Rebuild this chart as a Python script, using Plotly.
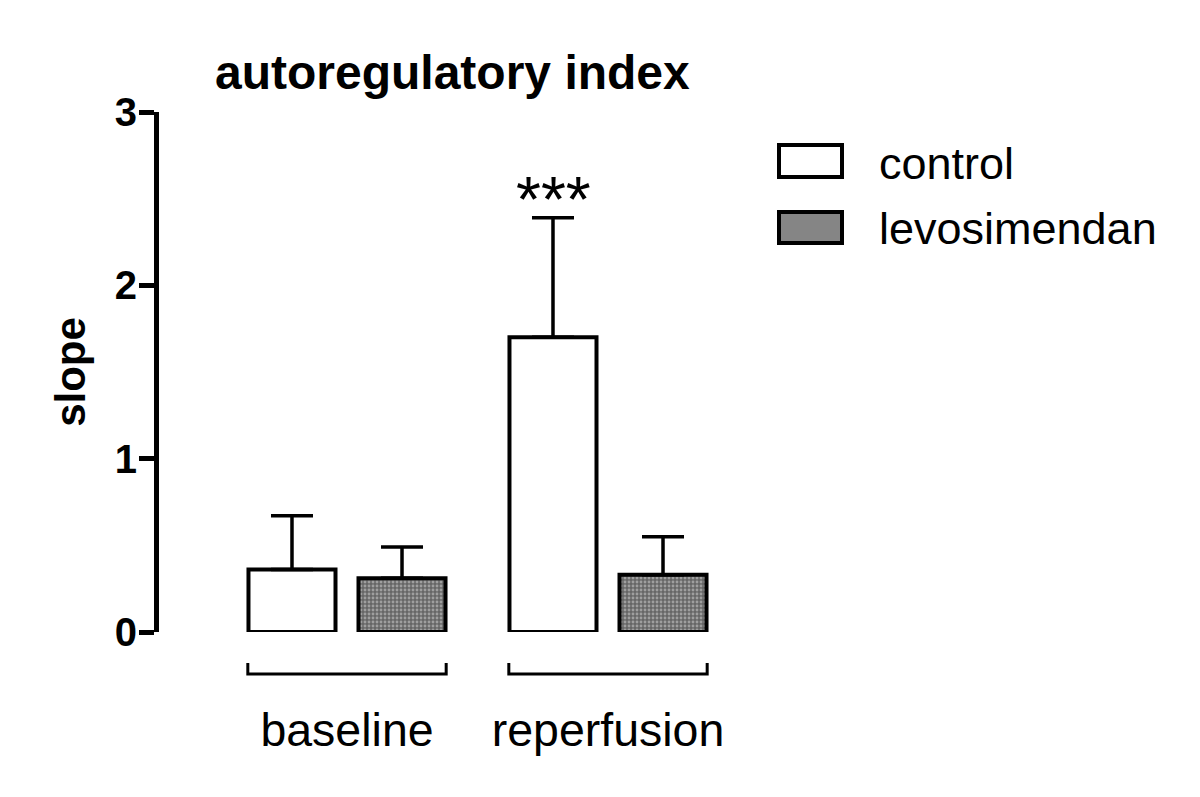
import plotly.graph_objects as go

# data
periods = ["baseline", "reperfusion"]
control_mean = [0.36, 1.70]
control_upper = [0.67, 2.39]
levo_mean = [0.31, 0.33]
levo_upper = [0.49, 0.55]
y_ticks = [0, 1, 2, 3]

BLACK = "#000000"
GREY = "#7a7a7a"
FONT = "Liberation Sans, Arial, sans-serif"

# the page body adds an 8px margin, so work in page pixels and shift
OFF = 8
W, H = 1200 - OFF, 797 - OFF
L, R, T, B = 159 - OFF, 740 - OFF, 112 - OFF, 632 - OFF


def px(x):
    return (x - OFF - L) / (R - L)


def py(y):
    return (B - (y - OFF)) / (B - T)


def err(upper, mean):
    return [u - m for u, m in zip(upper, mean)]


fig = go.Figure()
fig.add_trace(go.Bar(
    x=periods, y=control_mean, name="control",
    marker=dict(color="#ffffff", line=dict(color=BLACK, width=4)),
    error_y=dict(type="data", symmetric=False, array=err(control_upper, control_mean),
                 arrayminus=[0] * len(periods), color=BLACK, thickness=3.5, width=21),
))
fig.add_trace(go.Bar(
    x=periods, y=levo_mean, name="levosimendan",
    marker=dict(color=GREY, line=dict(color=BLACK, width=4),
                pattern=dict(shape=".", size=4, solidity=0.4,
                             fgcolor="#d8d8d8", bgcolor="#666666", fillmode="overlay")),
    error_y=dict(type="data", symmetric=False, array=err(levo_upper, levo_mean),
                 arrayminus=[0] * len(periods), color=BLACK, thickness=3.5, width=21),
))

# group brackets under each period
shapes = []
for i in range(len(periods)):
    x0, x1 = i - 0.38, i + 0.38
    shapes.append(dict(type="path", xref="x", yref="paper",
                       path=f"M {x0},{py(663)} L {x0},{py(674)} L {x1},{py(674)} L {x1},{py(663)}",
                       line=dict(color=BLACK, width=3)))

# legend swatches
shapes.append(dict(type="rect", xref="paper", yref="paper",
                   x0=px(779), x1=px(842), y0=py(177), y1=py(145),
                   fillcolor="#ffffff", line=dict(color=BLACK, width=4)))
shapes.append(dict(type="rect", xref="paper", yref="paper",
                   x0=px(779), x1=px(842), y0=py(243), y1=py(212),
                   fillcolor="#858585", line=dict(color=BLACK, width=4)))

annotations = [
    dict(x=px(877), y=py(163), xref="paper", yref="paper", text="control",
         showarrow=False, xanchor="left", yanchor="middle",
         font=dict(family=FONT, size=45, color=BLACK)),
    dict(x=px(877), y=py(228), xref="paper", yref="paper", text="levosimendan",
         showarrow=False, xanchor="left", yanchor="middle",
         font=dict(family=FONT, size=45, color=BLACK)),
    dict(x=periods[1], y=control_upper[1], xref="x", yref="y", text="***",
         showarrow=False, xanchor="center", yanchor="bottom", xshift=-55, yshift=-20,
         font=dict(family=FONT, size=64, color=BLACK)),
]

fig.update_layout(
    width=W, height=H,
    margin=dict(l=L, r=W - R, t=T, b=H - B),
    paper_bgcolor="#ffffff", plot_bgcolor="#ffffff",
    barmode="group", bargap=0.157, bargroupgap=0.209,
    showlegend=False,
    title=dict(text="<b>autoregulatory index</b>", x=px(215), xref="paper",
               xanchor="left", y=1 - (72 - OFF) / H, yanchor="middle",
               font=dict(family=FONT, size=48, color=BLACK)),
    shapes=shapes,
    annotations=annotations,
    xaxis=dict(range=[-188 / 261, (R + OFF - 347) / 261], showline=False, showgrid=False,
               zeroline=False, ticks="", ticklabelstandoff=66,
               tickfont=dict(family=FONT, size=46.5, color=BLACK)),
    yaxis=dict(range=[0, 3], tickvals=y_ticks, showline=True, linecolor=BLACK, linewidth=5,
               ticks="outside", ticklen=15, tickwidth=5, tickcolor=BLACK,
               showgrid=False, zeroline=False, ticklabelstandoff=-6,
               tickfont=dict(family=FONT, size=40, color=BLACK),
               ticktext=[f"<b>{v}</b>" for v in y_ticks],
               title=dict(text="<b>slope</b>", standoff=18,
                          font=dict(family=FONT, size=42, color=BLACK))),
)

fig.write_html("out.html")
